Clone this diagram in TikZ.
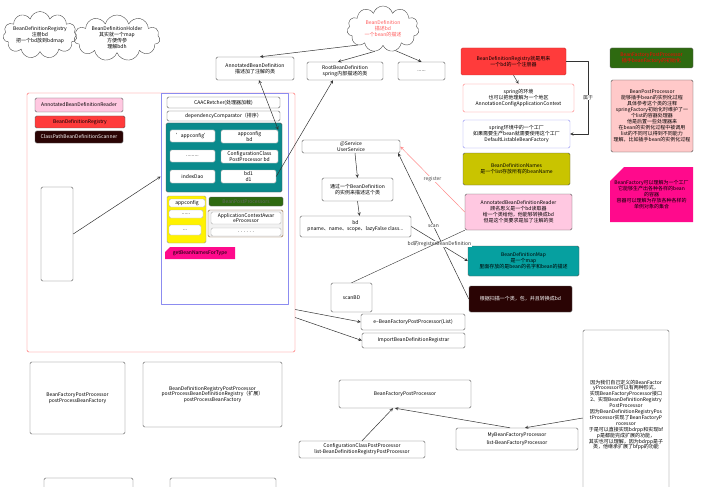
\documentclass[tikz,border=0pt]{standalone}
\usepackage{fontspec}
\setmainfont{Noto Sans CJK SC}
\usetikzlibrary{shapes.symbols}
\newcommand{\bdfont}{\fontsize{5}{5.9}\selectfont}
\definecolor{regred}{HTML}{FF3B3B}
\definecolor{rdpink}{HTML}{FFC8E1}
\definecolor{namesol}{HTML}{C9C400}
\definecolor{mapteal}{HTML}{06A0A0}
\definecolor{scandark}{HTML}{2A0404}
\definecolor{bppgreen}{HTML}{2E6A10}
\definecolor{bpppink}{HTML}{FFC9C9}
\definecolor{magtag}{HTML}{FF0A8C}
\definecolor{bdteal}{HTML}{0A8A8C}
\definecolor{ctxred}{HTML}{FF5A5A}
\definecolor{ctxblue}{HTML}{8C8CF0}
\begin{document}
\begin{tikzpicture}[x=1pt, y=-1pt, >=stealth, line join=round,
  box/.style={draw=black!65, rounded corners=1.5pt, align=center, inner sep=1pt, font=\bdfont},
  cell/.style={box, fill=white, draw=black!30},
  wh/.style 2 args={minimum width=#1pt, minimum height=#2pt},
  thought/.style={draw=black!70, cloud, cloud puffs=11, aspect=2, align=center, inner sep=-3pt, font=\bdfont},
  link/.style={->, black!80, line width=0.5pt},
  tag/.style={fill=white, inner sep=0.5pt, font=\bdfont}]
\useasboundingbox (0,0) rectangle (705,487);
\clip (0,0) rectangle (705,487);
% clouds
\node[thought, wh={74}{34}] (c1) at (40,35) {BeanDefinitionRegistry\\注册bd\\把一个bd放到bdmap};
\node[thought, wh={86}{46}] (c2) at (117,38) {BeanDefinitionHolder\\其实就一个map\\方便传参\\理解bdh};
\node[thought, wh={72}{46}, text=ctxred] (c3) at (383,29) {BeanDefinition\\描述bd\\一个bean的描述};
% kinds of bd
\node[box, wh={78}{23}] (abd) at (255,68.5) {AnnotatedBeanDefinition\\描述加了注解的类};
\node[box, wh={76}{18}] (rbd) at (345,71) {RootBeanDefinition\\spring内部描述的类};
\node[box, wh={47}{18}] (more) at (421.5,71) {......};
% right column
\node[box, wh={105}{27}, fill=regred, draw=regred!80!black] (reg) at (513.5,61.5) {BeanDefinitionRegistry就是用来\\一个bd的一个注册器};
\node[box, wh={111}{28}, draw=ctxred!80] (env) at (518.5,98) {spring的环境\\也可以把他理解为一个地区\\AnnotationConfigApplicationContext};
\node[box, wh={107}{28}, draw=ctxblue] (fac) at (516.5,134) {spring环境中的一个工厂\\如果需要生产bean就需要使用这个工厂\\DefaultListableBeanFactory};
\node[box, wh={107}{32}, fill=namesol] (names) at (516.5,169) {BeanDefinitionNames\\是一个list存放所有的beanName};
\node[box, wh={107}{36}, fill=rdpink] (reader) at (518.5,212) {AnnotatedBeanDefinitionReader\\顾名思义是一个bd读取器\\给一个类给他，他能够转换成bd\\但是这个类要求是加了注解的类};
\node[box, wh={111}{30}, fill=mapteal] (map) at (523.5,261) {BeanDefinitionMap\\是一个map\\里面存放的是bean的名字和bean的描述};
\node[box, wh={103}{26}, fill=scandark, text=white] (scanbox) at (520.5,299) {根据扫描一个类，包，并且转换成bd};
% far right
\node[box, wh={83}{20}, fill=bppgreen, text=red] (hint) at (651.5,58) {BeanFactoryPostProcessor\\插手beanFactory的初始化};
\node[box, wh={82}{72}, fill=bpppink, draw=black!70] (bpp) at (652,116) {BeanPostProcessor\\能够插手bean的实例化过程\\具体参考这个类的注释\\springFactory初始化时维护了一\\个list的容器处理器\\他是后置一些处理器来\\在bean的实例化过程中被调用\\list的不同可以得到不同能力\\理解，比如插手bean的实例化过程};
\fill[magtag] (610,181) -- (624,167) -- (693,167) -- (693,222) -- (610,222) -- cycle;
\node[font=\bdfont, align=center] (bf) at (651.5,194.5) {BeanFactory可以理解为一个工厂\\它能够生产出各种各样的bean\\的容器\\容器可以理解为存放各种各样的\\单例对象的集合};
% context
\node[draw=ctxred, rounded corners=1.5pt, wh={268}{259}] (ctx) at (161,222.5) {};
\node[box, wh={88}{14}, fill=rdpink] (r1) at (79,105) {AnnotatedBeanDefinitionReader};
\node[box, wh={90}{12}, fill=regred] (r2) at (80,122) {BeanDefinitionRegistry};
\node[box, wh={88}{12}, fill=scandark, text=white] (r3) at (79,137) {ClassPathBeanDefinitionScanner};
\node[box, wh={32}{94}] (cls) at (57,234) {};
\node[draw=ctxblue, line width=0.7pt, wh={127}{211}] (ioc) at (224.5,198.5) {};
\node[box, wh={113}{11}] (pp) at (223.5,102.5) {CAACRetcher(处理器加载)};
\node[box, wh={113}{10}] (cmp) at (223.5,116) {dependencyComparator（排序）};
\node[box, wh={116}{69}, fill=bdteal] (bdmap) at (224,157.5) {};
\node[cell, wh={45}{12}] (t1) at (192.5,136) {\symbol{39}appconfig\symbol{39}};
\node[cell, wh={57}{13}] (t2) at (249.5,136.5) {appconfig\\bd};
\node[cell, wh={45}{12}] (t3) at (192.5,156) {.........};
\node[cell, wh={57}{13}] (t4) at (249.5,156.5) {ConfigurationClass\\PostProcessor bd};
\node[cell, wh={45}{13}] (t5) at (192.5,176.5) {indexDao};
\node[cell, wh={55}{13}] (t6) at (248.5,176.5) {bd1\\d1};
\node[box, wh={39}{47}, fill=yellow, draw=black!40] (names2) at (186.5,219.5) {};
\node[cell, wh={36}{8}] (y1) at (187,203) {appconfig};
\node[cell, wh={34}{8}] (y2) at (186,214) {......};
\node[cell, wh={32}{10}] (y3) at (185,230) {...};
\node[box, wh={74}{9}, fill=bppgreen, text=black!60] (pplist) at (246,201.5) {BeanPostProcessors};
\node[box, wh={75}{27}, fill=black!5, draw=brown!70!black] (ppbox) at (245.5,223.5) {};
\node[cell, wh={70}{12}] (g1) at (246,218) {ApplicationContextAwar\\eProcessor};
\node[cell, wh={70}{8}] (g2) at (246,232) {. . . . . .};
\fill[magtag] (165,259) -- (165,252) -- (170,247) -- (235,247) -- (235,259) -- cycle;
\node[font=\bdfont] (bnft) at (200,253) {getBeanNamesForType};
% one bean
\node[box, wh={98}{13}] (us) at (351,146.5) {@Service\\UserService};
\node[box, wh={71}{23}] (desc) at (357.5,189.5) {通过一个BeanDefinition\\的实例来描述这个类};
\node[box, wh={111}{21}] (bd) at (355.5,226.5) {bd\\pname、name、scope、lazyFalse class...};
\node[box, wh={41}{29}] (scanbd) at (351.5,297.5) {scanBD};
\node[box, wh={104}{16}] (efp) at (413,322) {e--BeanFactoryPostProcessor(List)};
\node[box, wh={103}{15}] (ibr) at (413.5,340.5) {ImportBeanDefinitionRegistrar};
% post processors
\node[box, wh={95}{72}] (bfpp1) at (77.5,398) {BeanFactoryPostProcessor\\postProcessBeanFactory};
\node[box, wh={139}{65}] (bdrpp) at (212.5,394.5) {BeanDefinitionRegistryPostProcessor\\postProcessBeanDefinitionRegistry（扩展）\\postProcessBeanFactory};
\node[box, wh={132}{28}] (bfpp2) at (405,394) {BeanFactoryPostProcessor};
\node[box, wh={126}{17}] (ccpp) at (362,449.5) {ConfigurationClassPostProcessor\\list-BeanDefinitionRegistryPostProcessor};
\node[box, wh={122}{22}] (mybf) at (517,439) {MyBeanFactoryProcessor\\[2pt]list-BeanFactoryProcessor};
\node[box, wh={86}{170}] (note) at (626,415) {因为我们自己定义的BeanFactor\\yProcessor可以有两种形式，\\实现BeanFactoryProcessor接口\\2、实现BeanDefinitionRegistry\\PostProcessor\\因为BeanDefinitionRegistryPos\\tProcessor实现了BeanFactoryP\\rocessor\\于是可以直接实现bdrpp和实现bf\\p是都能完成扩展的功能，\\其实也可以理解，因为bdrpp是子\\类，他继承扩展了bfpp的功能};
\node[box, wh={89}{30}] (part1) at (88.5,493) {};
\node[box, wh={106}{30}] (part2) at (223,493) {};
% connectors
\draw[link] (c3.south west) -- ([xshift=5pt]abd.north);
\draw[link] (c3.250) -- ([xshift=-7pt]rbd.north);
\draw[link] (c3.300) -- (more.north);
\draw[link, <->] (t2.north east) -- ([xshift=4pt]abd.south);
\draw[link] (t6.east) -- ([xshift=-12pt]rbd.south);
\draw[link] (cls.east) -- ([yshift=22pt]ioc.west);
\draw[link] (reg.south) -- (env.north);
\draw[link] (reg.east) -- ++(22,0) |- (fac.east) node[tag, pos=0.25] {属于};
\draw[link] ([xshift=4pt]us.south) -- (desc.north);
\draw[link] (desc.south) -- ([xshift=4pt]bd.north);
\draw[link, ctxred!70] (reader.west) -- (us.east) node[tag, midway, text=black!70] {register};
\draw[link] (scanbox.west) -- ([xshift=-2pt]us.south east) node[tag, midway] {scan};
\draw[link] (bd.east) -- (map.west) node[tag, midway] {bd的registerBeanDefinition};
\draw[black!80] (scanbd.north) -- (reader.south west);
\draw[link] ([yshift=-87pt]ctx.east) -- (efp.west);
\draw[link] ([yshift=-95pt]ctx.east) -- (ibr.west);
\draw[link] (ccpp.north) -- ([xshift=-12pt]bfpp2.south);
\draw[link] ([xshift=-7pt]mybf.north) -- ([xshift=-10pt]bfpp2.south);
\draw[link] ([yshift=-3pt]note.west) -- ([xshift=8pt]mybf.north);
\end{tikzpicture}
\end{document}
